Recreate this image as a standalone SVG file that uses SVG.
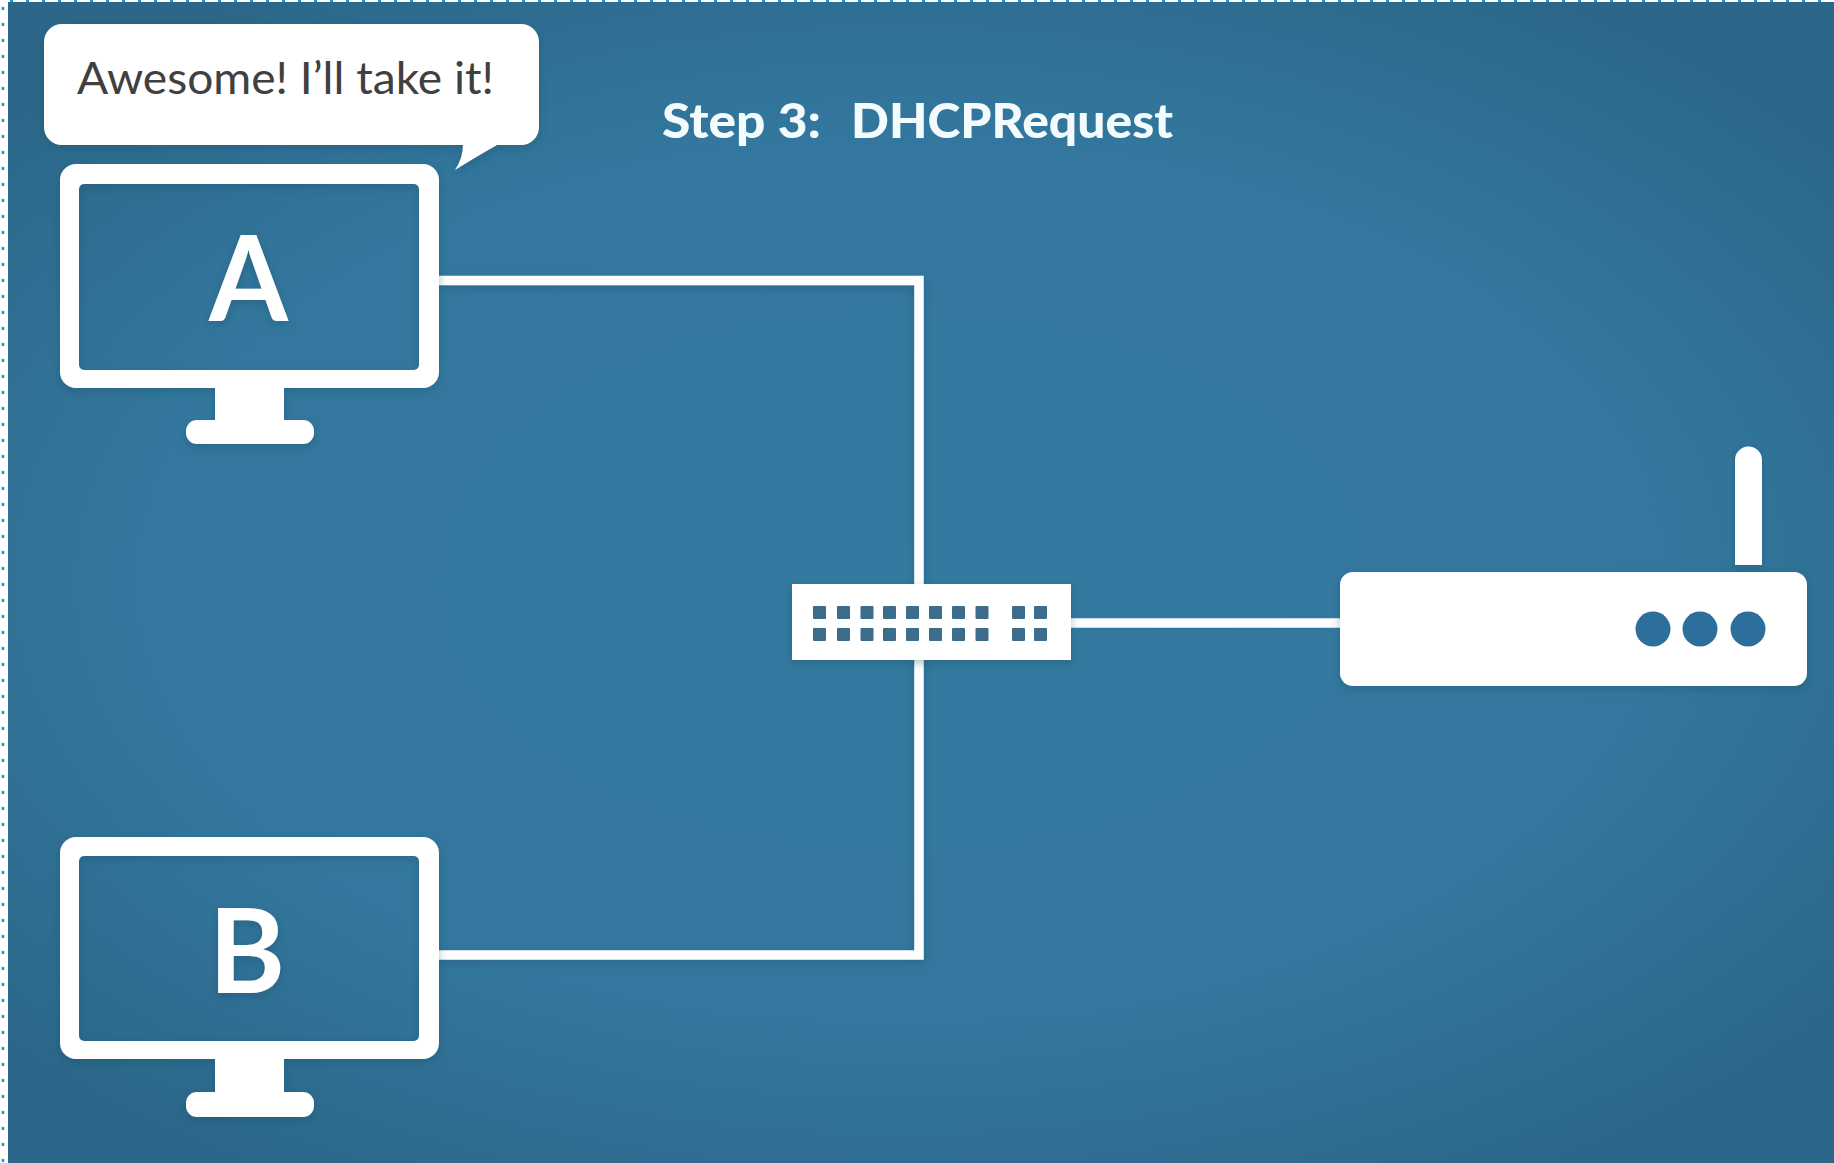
<svg xmlns="http://www.w3.org/2000/svg" width="1834" height="1163" viewBox="0 0 1834 1163">
  <defs>
    <radialGradient id="bg" gradientUnits="userSpaceOnUse" cx="0" cy="0" r="1" gradientTransform="translate(900 580) scale(1180 690)">
      <stop offset="0" stop-color="#34799f"/>
      <stop offset="0.65" stop-color="#33779e"/>
      <stop offset="1" stop-color="#2c6789"/>
    </radialGradient>
    <filter id="sh" x="-10%" y="-20%" width="120%" height="140%">
      <feDropShadow dx="0" dy="3" stdDeviation="4" flood-color="#1c4660" flood-opacity="0.35"/>
    </filter>
  </defs>
  <style>
    .w { fill: #ffffff; }
    .port { fill: #3d6c8d; }
    .dot { fill: #2c6f9a; }
    .wire { fill: none; stroke: #ffffff; stroke-width: 9.500; stroke-linejoin: miter; }
    .lbl { font-family: "Lato", "Open Sans", "Liberation Sans", sans-serif; font-weight: 700; fill: #ffffff; text-anchor: middle; }
    .sel { fill: none; stroke: #00a2e0; }
  </style>
  <rect width="1834" height="1163" fill="#ffffff"/>
  <rect x="8" y="2" width="1826" height="1161" fill="url(#bg)"/>
  <line class="sel" x1="10" y1="1" x2="1834" y2="1" stroke-width="2" stroke-dasharray="3 13"/>
  <line class="sel" x1="3" y1="7" x2="3" y2="1163" stroke-width="2.500" stroke-dasharray="3 13"/>

  <g id="connectors">
    <path class="wire" d="M439 280.500H919V955H439" filter="url(#sh)"/>
    <path class="wire" d="M1071 623H1340"/>
  </g>

  <g id="bubble">
    <path class="w" filter="url(#sh)" d="M62 24H521a18 18 0 0 1 18 18V127a18 18 0 0 1-18 18H497Q474 158 455 170Q463 158 463 145H62a18 18 0 0 1-18-18V42a18 18 0 0 1 18-18Z"/>
    <text x="77" y="94" textLength="417" lengthAdjust="spacingAndGlyphs" font-family="Lato, 'Open Sans', 'Liberation Sans', sans-serif" font-size="44" fill="#404040">Awesome! I’ll take it!</text>
  </g>

  <g id="title">
    <text x="662" y="138" font-family="Lato, 'Open Sans', 'Liberation Sans', sans-serif" font-weight="900" font-size="48" fill="#f4fbfd"><tspan textLength="159" lengthAdjust="spacingAndGlyphs">Step 3:</tspan><tspan x="851" textLength="322" lengthAdjust="spacingAndGlyphs">DHCPRequest</tspan></text>
  </g>

  <g id="monitor-a" filter="url(#sh)">
    <rect class="w" x="215" y="380" width="69" height="45"/>
    <rect class="w" x="186" y="420" width="128" height="24" rx="11"/>
    <path class="w" fill-rule="evenodd" d="M76 164H423a16 16 0 0 1 16 16V372a16 16 0 0 1-16 16H76a16 16 0 0 1-16-16V180a16 16 0 0 1 16-16ZM84 184a5 5 0 0 0-5 5V365a5 5 0 0 0 5 5H414a5 5 0 0 0 5-5V189a5 5 0 0 0-5-5Z"/>
    <text class="lbl" x="209" y="321" font-size="118" text-anchor="start" style="text-anchor:start" textLength="79" lengthAdjust="spacingAndGlyphs">A</text>
  </g>

  <g id="monitor-b" filter="url(#sh)">
    <rect class="w" x="215" y="1052" width="69" height="45"/>
    <rect class="w" x="186" y="1092" width="128" height="25" rx="11"/>
    <path class="w" fill-rule="evenodd" d="M76 837H423a16 16 0 0 1 16 16V1043a16 16 0 0 1-16 16H76a16 16 0 0 1-16-16V853a16 16 0 0 1 16-16ZM84 856a5 5 0 0 0-5 5V1036a5 5 0 0 0 5 5H414a5 5 0 0 0 5-5V861a5 5 0 0 0-5-5Z"/>
    <text class="lbl" x="247" y="993" font-size="116">B</text>
  </g>

  <g id="switch">
    <rect class="w" x="792" y="584" width="279" height="76" filter="url(#sh)"/>
    <g class="port">
      <rect x="813" y="606" width="13" height="13" rx="1"/><rect x="837" y="606" width="13" height="13" rx="1"/><rect x="860.500" y="606" width="13" height="13" rx="1"/><rect x="883" y="606" width="13" height="13" rx="1"/><rect x="906" y="606" width="13" height="13" rx="1"/><rect x="929" y="606" width="13" height="13" rx="1"/><rect x="952" y="606" width="13" height="13" rx="1"/><rect x="975.500" y="606" width="13" height="13" rx="1"/><rect x="1012" y="606" width="13" height="13" rx="1"/><rect x="1034" y="606" width="13" height="13" rx="1"/>
      <rect x="813" y="628" width="13" height="13" rx="1"/><rect x="837" y="628" width="13" height="13" rx="1"/><rect x="860.500" y="628" width="13" height="13" rx="1"/><rect x="883" y="628" width="13" height="13" rx="1"/><rect x="906" y="628" width="13" height="13" rx="1"/><rect x="929" y="628" width="13" height="13" rx="1"/><rect x="952" y="628" width="13" height="13" rx="1"/><rect x="975.500" y="628" width="13" height="13" rx="1"/><rect x="1012" y="628" width="13" height="13" rx="1"/><rect x="1034" y="628" width="13" height="13" rx="1"/>
    </g>
  </g>

  <g id="router">
    <path class="w" filter="url(#sh)" d="M1735 565V460a13.500 13.500 0 0 1 27 0V565Z"/>
    <rect class="w" x="1340" y="572" width="467" height="114" rx="13" filter="url(#sh)"/>
    <circle class="dot" cx="1653" cy="629" r="17.500"/>
    <circle class="dot" cx="1700" cy="629" r="17.500"/>
    <circle class="dot" cx="1748" cy="629" r="17.500"/>
  </g>
</svg>
